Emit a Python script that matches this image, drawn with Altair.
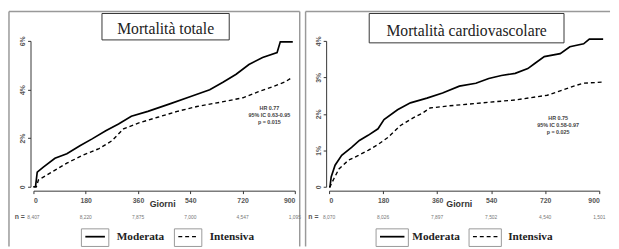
import altair as alt
import pandas as pd

# ---------------- data ----------------
tot_mod_days = [0, 7, 13, 34, 74, 115, 160, 202, 249, 293, 337, 394, 472, 539, 607, 654, 698, 742, 789, 839, 850, 893]
tot_mod_pct = [0, 0.0, 0.60, 0.81, 1.17, 1.36, 1.69, 1.97, 2.30, 2.58, 2.90, 3.10, 3.42, 3.70, 3.99, 4.31, 4.63, 5.03, 5.32, 5.52, 5.96, 5.96]
tot_int_days = [0, 10, 17, 57, 115, 169, 226, 270, 310, 361, 428, 495, 563, 654, 721, 775, 823, 866, 893]
tot_int_pct = [0, 0.0, 0.28, 0.56, 0.97, 1.29, 1.57, 1.89, 2.38, 2.62, 2.86, 3.10, 3.30, 3.50, 3.66, 3.91, 4.11, 4.31, 4.51]

cv_mod_days = [0, 3, 7, 20, 42, 75, 101, 130, 163, 183, 228, 271, 326, 378, 434, 489, 532, 574, 620, 662, 685, 717, 770, 802, 848, 867, 913]
cv_mod_pct = [0, 0.0, 0.27, 0.59, 0.86, 1.08, 1.27, 1.41, 1.59, 1.84, 2.11, 2.30, 2.43, 2.57, 2.76, 2.84, 2.97, 3.05, 3.11, 3.24, 3.38, 3.57, 3.65, 3.84, 3.92, 4.05, 4.05]
cv_int_days = [0, 3, 16, 33, 65, 98, 130, 163, 196, 238, 280, 313, 336, 401, 509, 620, 727, 815, 848, 913]
cv_int_pct = [0, 0.0, 0.22, 0.49, 0.73, 0.86, 1.00, 1.16, 1.35, 1.68, 1.89, 2.03, 2.16, 2.22, 2.30, 2.38, 2.51, 2.76, 2.84, 2.87]

x_ticks = [0, 180, 360, 540, 720, 900]
tot_risk = ["8,407", "8,220", "7,875", "7,000", "4,547", "1,095"]
cv_risk = ["8,070", "8,026", "7,897", "7,502", "4,540", "1,501"]
tot_y_ticks = [0, 2, 4, 6]
cv_y_ticks = [0, 1, 2, 3, 4]

titles = ["Mortalità totale", "Mortalità cardiovascolare"]
tot_stats = ["HR 0.77", "95% IC 0.63-0.95", "p = 0.015"]
cv_stats = ["HR 0.75", "95% IC 0.58-0.97", "p = 0.025"]
series_names = ["Moderata", "Intensiva"]

SANS = "Liberation Sans"
SERIF = "Liberation Serif"


def one():
    return alt.Chart(alt.Data(values=[{}]))


def panel(mod_d, mod_p, int_d, int_p, risk, yticks, ymax, title, stats, W, H, geo):
    xscale = alt.Scale(domain=[0, 900], nice=False, zero=False)
    yscale = alt.Scale(domain=[0, ymax], nice=False)
    xaxis = alt.Axis(values=x_ticks, title=None, grid=False, offset=4, tickSize=3,
                     labelFont=SANS, labelFontSize=7, labelColor="#555", labelPadding=3,
                     domainColor="#333", tickColor="#333", labelFontWeight="bold")
    yaxis = alt.Axis(values=yticks, title=None, grid=False, offset=3, tickSize=3,
                     labelFont=SANS, labelFontSize=7, labelColor="#555", labelAngle=-90,
                     labelExpr="datum.value == 0 ? '0' : datum.value + '%'",
                     domainColor="#333", tickColor="#333", labelFontWeight="bold")

    d_mod = pd.DataFrame({"day": mod_d, "pct": mod_p})
    d_int = pd.DataFrame({"day": int_d, "pct": int_p})
    d_risk = pd.DataFrame({"day": x_ticks, "n": risk})

    mod_line = alt.Chart(d_mod).mark_line(interpolate="linear", color="black", strokeWidth=1.7).encode(
        x=alt.X("day:Q", scale=xscale, axis=xaxis),
        y=alt.Y("pct:Q", scale=yscale, axis=yaxis))
    int_line = alt.Chart(d_int).mark_line(interpolate="linear", color="black", strokeWidth=1.4,
                                          strokeDash=[4, 3]).encode(
        x=alt.X("day:Q", scale=xscale, axis=xaxis),
        y=alt.Y("pct:Q", scale=yscale, axis=yaxis))
    risk_txt = alt.Chart(d_risk).mark_text(font=SANS, fontSize=5, color="#777").encode(
        x=alt.X("day:Q", scale=xscale, axis=xaxis), y=alt.value(geo["risk_y"]), text="n:N")

    fl, fr, ft, fb = geo["frame"]
    layers = [
        one().mark_rule(color="#999", strokeWidth=1.5).encode(x=alt.value(fl), y=alt.value(ft), y2=alt.value(fb)),
        one().mark_rule(color="#999", strokeWidth=1.5).encode(x=alt.value(fl), x2=alt.value(fr), y=alt.value(ft)),
    ]
    if geo.get("right_edge"):
        layers.append(one().mark_rule(color="#999", strokeWidth=1.5).encode(
            x=alt.value(fr), y=alt.value(ft), y2=alt.value(fb)))
    bx0, bx1, by0, by1 = geo["tbox"]
    layers += [
        one().mark_rect(fill="white", stroke="#333", strokeWidth=1).encode(
            x=alt.value(bx0), x2=alt.value(bx1), y=alt.value(by0), y2=alt.value(by1)),
        one().mark_text(font=SERIF, fontSize=16, color="#222").encode(
            x=alt.value((bx0 + bx1) / 2), y=alt.value(geo["title_y"]), text=alt.value(title)),
        mod_line, int_line, risk_txt,
        one().mark_text(font=SANS, fontSize=7, color="#555", fontWeight="bold").encode(
            x=alt.value(geo["n_x"]), y=alt.value(geo["risk_y"]), text=alt.value("n =")),
        one().mark_text(font=SANS, fontSize=9, fontWeight="bold", color="#333").encode(
            x=alt.value(geo["giorni_x"]), y=alt.value(geo["giorni_y"]), text=alt.value("Giorni")),
        one().mark_text(font=SANS, fontSize=5.5, fontWeight="bold", color="#444", lineHeight=7,
                        baseline="top").encode(
            x=alt.value(geo["stats_x"]), y=alt.value(geo["stats_y"]), text=alt.value(stats)),
    ]
    lg = geo["legend"]
    ly = lg["y"]
    for (b0, b1), dash, name, tx in [((lg["s0"], lg["s1"]), None, series_names[0], lg["t0"]),
                                     ((lg["d0"], lg["d1"]), [4, 3], series_names[1], lg["t1"])]:
        layers.append(one().mark_rect(fill="white", stroke="#999", strokeWidth=1).encode(
            x=alt.value(b0), x2=alt.value(b1), y=alt.value(ly - 8), y2=alt.value(fb)))
        rule_kw = dict(color="black", strokeWidth=1.8 if dash is None else 1.4)
        if dash is not None:
            rule_kw["strokeDash"] = dash
        layers.append(one().mark_rule(**rule_kw).encode(
            x=alt.value(b0 + 4), x2=alt.value(b1 - 4), y=alt.value(ly)))
        layers.append(one().mark_text(font=SERIF, fontSize=11.5, fontWeight="bold", color="#222",
                                      align="left").encode(
            x=alt.value(tx), y=alt.value(ly), text=alt.value(name)))

    return alt.layer(*layers).properties(width=W, height=H)


left = panel(tot_mod_days, tot_mod_pct, tot_int_days, tot_int_pct, tot_risk, tot_y_ticks, 6,
             titles[0], tot_stats, 267, 149,
             dict(frame=(-25, 272, -30, 210), right_edge=True, tbox=(70, 200, -28, -1), title_y=-12,
                  risk_y=180, n_x=-14, giorni_x=132, giorni_y=167, stats_x=241, stats_y=67,
                  legend=dict(y=200, s0=49, s1=77, t0=85, d0=144, d1=172, t1=180)))
right = panel(cv_mod_days, cv_mod_pct, cv_int_days, cv_int_pct, cv_risk, cv_y_ticks, 4,
              titles[1], cv_stats, 276, 149,
              dict(frame=(-24, 287, -30, 210), right_edge=False, tbox=(41, 240, -28, 2), title_y=-10,
                   risk_y=180, n_x=-16, giorni_x=133, giorni_y=167, stats_x=234, stats_y=77,
                   legend=dict(y=200, s0=48, s1=81, t0=85, d0=143, d1=176, t1=183)))

chart = alt.hconcat(left, right, spacing=3).properties(padding=0).configure_view(strokeWidth=0)

chart.save("out.html", embed_options={"renderer": "svg", "actions": False})
